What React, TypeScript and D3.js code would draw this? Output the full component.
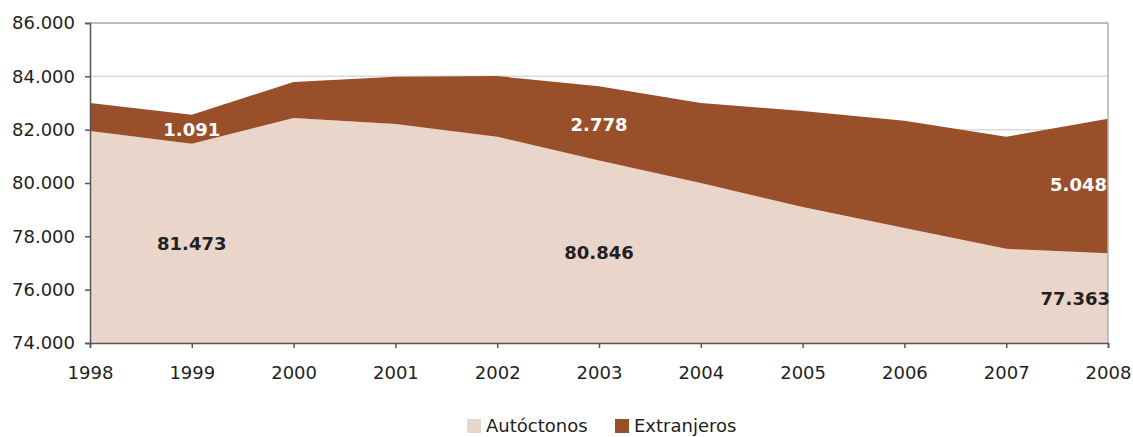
import React, { useRef, useEffect } from 'react';
import * as d3 from 'd3';

const years = [1998, 1999, 2000, 2001, 2002, 2003, 2004, 2005, 2006, 2007, 2008];
const autoctonos = [81950, 81473, 82440, 82210, 81730, 80846, 80000, 79100, 78310, 77530, 77363];
const extranjeros = [1050, 1091, 1350, 1770, 2280, 2778, 3000, 3600, 4020, 4200, 5048];
const yTicks = [74000, 76000, 78000, 80000, 82000, 84000, 86000];
const seriesNames = ['Autóctonos', 'Extranjeros'];
const seriesColors = ['#ead5cb', '#9a4f2b'];

// years whose values carry a label
const labelYears = [1, 5, 10];

const FONT = '"DejaVu Sans", Verdana, sans-serif';
const fmt = (v: number) => d3.format(',')(v).replace(/,/g, '.');

const App: React.FC = () => {
  const ref = useRef<HTMLDivElement>(null);

  useEffect(() => {
    d3.select(ref.current).select('svg').remove();
    const width = 1133, height = 437;
    const m = { top: 23, right: 25, bottom: 94, left: 90 };

    const svg = d3.select(ref.current)
      .append('svg')
      .attr('width', width)
      .attr('height', height)
      .style('display', 'block')
      .style('font-family', FONT);

    const x = d3.scaleLinear().domain([1998, 2008]).range([m.left, width - m.right]);
    const y = d3.scaleLinear().domain([74000, 86000]).range([height - m.bottom, m.top]);

    // grid
    svg.append('g').selectAll('line')
      .data(yTicks.slice(1))
      .enter().append('line')
      .attr('x1', m.left).attr('x2', width - m.right)
      .attr('y1', d => y(d)).attr('y2', d => y(d))
      .style('stroke', d => d === 86000 ? '#a6a6a6' : '#d9d9d9')
      .style('stroke-width', 1.5);

    const rows = years.map((yr, i) => ({ year: yr, a: autoctonos[i], e: extranjeros[i] }));
    const layers = d3.stack<any>().keys(['a', 'e'])(rows);

    svg.append('path')
      .datum(layers[0])
      .attr('d', d3.area<any>().x(d => x(d.data.year)).y0(y(74000)).y1(d => y(d[1])))
      .style('fill', seriesColors[0]);
    svg.append('path')
      .datum(layers[1])
      .attr('d', d3.area<any>().x(d => x(d.data.year)).y0(d => y(d[0])).y1(d => y(d[1])))
      .style('fill', seriesColors[1]);

    // right border
    svg.append('line')
      .attr('x1', width - m.right).attr('x2', width - m.right)
      .attr('y1', m.top).attr('y2', height - m.bottom)
      .style('stroke', '#b0b0b0').style('stroke-width', 1.5);

    // axes
    const yAxis = svg.append('g')
      .attr('transform', `translate(${m.left},0)`)
      .call(d3.axisLeft(y).tickValues(yTicks).tickSize(5).tickPadding(10).tickFormat(d => fmt(+d)));
    const xAxis = svg.append('g')
      .attr('transform', `translate(0,${height - m.bottom})`)
      .call(d3.axisBottom(x).tickValues(years).tickSize(5).tickPadding(18).tickFormat(d3.format('d')));
    [yAxis, xAxis].forEach(g => {
      g.select('.domain').style('stroke', '#555').style('stroke-width', 1.5);
      g.selectAll('.tick line').style('stroke', '#555').style('stroke-width', 1.5);
      g.selectAll('text').style('font-size', '18px').style('fill', '#231f20')
        .style('font-family', FONT);
    });

    // value labels
    const labelPos = [
      { anchor: 'middle', eY: 130, aY: 244, dxA: 0 },
      { anchor: 'middle', eY: 125, aY: 253, dxA: 0 },
      { anchor: 'end', eY: 185, aY: 299, dxA: 3 },
    ];
    labelYears.forEach((yi, k) => {
      const p = labelPos[k];
      const xx = x(years[yi]) + (p.anchor === 'end' ? -1 : 0);
      svg.append('text')
        .attr('x', xx).attr('y', p.eY).attr('dy', '0.36em')
        .attr('text-anchor', p.anchor)
        .style('font-size', '18px').style('font-weight', 'bold').style('fill', '#fff')
        .text(fmt(extranjeros[yi]));
      svg.append('text')
        .attr('x', xx + p.dxA).attr('y', p.aY).attr('dy', '0.36em')
        .attr('text-anchor', p.anchor)
        .style('font-size', '18px').style('font-weight', 'bold').style('fill', '#231f20')
        .text(fmt(autoctonos[yi]));
    });

    // legend
    const legend = svg.append('g').attr('transform', 'translate(467,426)');
    const offsets = [0, 148];
    seriesNames.forEach((name, i) => {
      const g = legend.append('g').attr('transform', `translate(${offsets[i]},0)`);
      g.append('rect').attr('x', 0).attr('y', -7).attr('width', 14).attr('height', 14)
        .style('fill', seriesColors[i]);
      g.append('text').attr('x', 19).attr('y', 0).attr('dy', '0.36em')
        .style('font-size', '18px').style('fill', '#231f20').text(name);
    });
  }, []);

  return <div ref={ref} style={{ position: 'absolute', top: 0, left: 0, overflow: 'hidden' }} />;
};

export default App;
